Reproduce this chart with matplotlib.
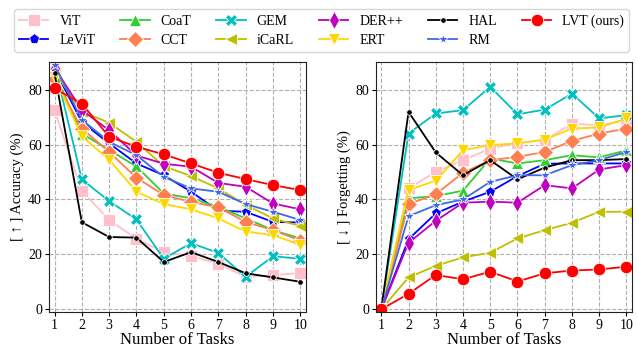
import numpy as np
import matplotlib.pyplot as plt

plt.rcParams['font.family'] = ['Liberation Serif', 'DejaVu Serif']

tasks = np.arange(1, 11)

methods = ['ViT', 'LeViT', 'CoaT', 'CCT', 'GEM', 'iCaRL', 'DER++', 'ERT', 'HAL', 'RM', 'LVT (ours)']

# accuracy (%) per task
acc_vit = [72.5, 43.2, 32.5, 25.7, 20.8, 19.3, 16.6, 11.8, 12.4, 13.2]
acc_levit = [87.5, 68.2, 60.4, 53.1, 48.8, 42.8, 35.9, 35.5, 31.8, 31.6]
acc_coat = [86.0, 64.0, 58.0, 52.0, 42.2, 40.4, 37.3, 33.1, 28.8, 25.8]
acc_cct = [84.0, 65.8, 57.3, 47.9, 41.6, 39.1, 37.1, 31.8, 28.8, 25.0]
acc_gem = [89.0, 47.3, 39.4, 32.7, 18.4, 24.1, 20.5, 11.8, 19.3, 18.4]
acc_icarl = [86.5, 72.0, 67.9, 61.0, 52.1, 48.5, 44.0, 38.0, 33.1, 30.3]
acc_der = [88.0, 72.5, 65.2, 56.0, 53.0, 51.9, 46.0, 44.6, 38.5, 36.4]
acc_ert = [84.5, 63.0, 54.5, 42.8, 38.3, 36.4, 33.1, 28.3, 27.0, 23.5]
acc_hal = [86.0, 31.7, 26.3, 26.1, 17.2, 20.8, 17.2, 13.1, 11.6, 10.0]
acc_rm = [89.0, 69.0, 61.0, 56.1, 48.2, 44.0, 42.8, 38.3, 35.5, 32.5]
acc_lvt = [80.4, 74.9, 62.8, 59.2, 56.4, 53.1, 49.7, 47.4, 45.2, 43.4]

# forgetting (%) per task
fgt_vit = [0, 44.0, 50.0, 54.3, 58.5, 60.6, 61.6, 67.6, 67.0, 68.8]
fgt_levit = [0, 25.5, 34.9, 39.2, 42.8, 48.5, 53.0, 53.1, 53.1, 53.1]
fgt_coat = [0, 40.4, 41.2, 43.2, 54.9, 53.1, 54.3, 56.1, 55.3, 57.9]
fgt_cct = [0, 38.3, 41.9, 49.7, 54.3, 55.5, 57.3, 61.3, 64.0, 65.8]
fgt_gem = [0, 64.0, 71.3, 72.5, 81.0, 71.0, 72.7, 78.5, 69.5, 70.7]
fgt_icarl = [0, 11.6, 15.8, 18.9, 20.6, 25.8, 28.8, 31.5, 35.5, 35.5]
fgt_der = [0, 24.2, 32.2, 38.8, 39.2, 38.8, 45.2, 44.0, 50.9, 52.5]
fgt_ert = [0, 43.4, 46.8, 57.9, 59.8, 60.4, 61.8, 65.8, 66.2, 69.5]
fgt_hal = [0, 71.9, 57.1, 48.8, 54.3, 47.3, 51.6, 54.3, 54.3, 54.7]
fgt_rm = [0, 33.9, 37.9, 40.0, 46.4, 48.8, 48.8, 52.5, 54.3, 57.3]
fgt_lvt = [0, 5.6, 12.5, 10.9, 13.7, 10.1, 13.1, 14.1, 14.5, 15.5]

acc = [acc_vit, acc_levit, acc_coat, acc_cct, acc_gem, acc_icarl, acc_der, acc_ert, acc_hal, acc_rm, acc_lvt]
fgt = [fgt_vit, fgt_levit, fgt_coat, fgt_cct, fgt_gem, fgt_icarl, fgt_der, fgt_ert, fgt_hal, fgt_rm, fgt_lvt]

colors = ['pink', 'blue', 'limegreen', 'coral', 'c', 'y', 'm', 'gold', 'black', 'royalblue', 'red']
markers = ['s', 'p', '^', 'D', 'X', '<', 'd', 'v', '.', '*', 'o']
msizes = [8, 8, 8, 8, 9, 8, 9, 9, 8, 8, 9]

fig = plt.figure(figsize=(6.37, 3.49), dpi=100)
ax1 = fig.add_axes([0.077, 0.106, 0.403, 0.716])
ax2 = fig.add_axes([0.590, 0.106, 0.402, 0.716])

for ax, data in [(ax1, acc), (ax2, fgt)]:
    for i in range(len(methods)):
        ax.plot(tasks, data[i], color=colors[i], marker=markers[i], ms=msizes[i],
                mec='white', mew=0.6, lw=1.3, label=methods[i])
    ax.set_xlim(0.8, 10.2)
    ax.set_ylim(-1, 90)
    ax.set_xticks(tasks)
    ax.set_yticks([0, 20, 40, 60, 80])
    ax.grid(True, ls='--', color='#b0b0b0', lw=0.8)
    ax.set_axisbelow(True)
    ax.tick_params(labelsize=10, length=3, pad=2)
    ax.set_xlabel('Number of Tasks', fontsize=12, labelpad=0)
    for s in ax.spines.values():
        s.set_color('#222222')

ax1.set_ylabel('[ ↑ ] Accuracy (%)', fontsize=10.5, labelpad=3)
ax2.set_ylabel('[ ↓ ] Forgetting (%)', fontsize=10.5, labelpad=3)

handles, labels = ax1.get_legend_handles_labels()
leg = fig.legend(handles, labels, loc='upper center', ncol=6, bbox_to_anchor=(0.505, 0.993),
                 fontsize=10, frameon=True, handlelength=2.1, columnspacing=1.8,
                 handletextpad=0.8, borderpad=0.35, labelspacing=0.45)
leg.get_frame().set_edgecolor('#cccccc')

fig.savefig('out.png', dpi=100)
